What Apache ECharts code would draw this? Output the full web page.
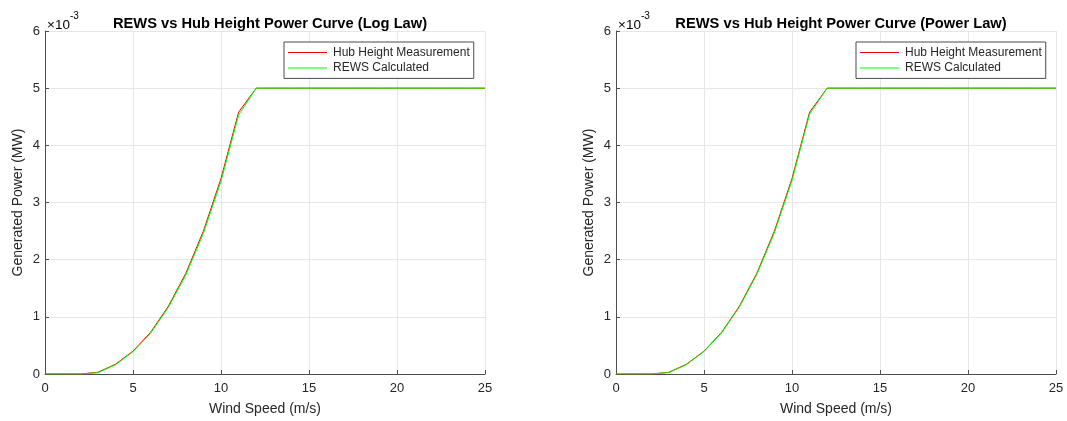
<!DOCTYPE html>
<html>
<head>
<meta charset="utf-8">
<script src="https://cdn.jsdelivr.net/npm/echarts@6/dist/echarts.min.js"></script>
<style>
  html, body { margin: 0; padding: 0; background: #ffffff; }
  #chart { width: 1067px; height: 421px; }
</style>
</head>
<body>
<div id="chart"></div>
<script>
// Wind speed samples (m/s)
const windSpeed = [0, 1, 2, 3, 4, 5, 6, 7, 8, 9, 10, 11, 12, 13, 14, 15, 16, 17, 18, 19, 20, 21, 22, 23, 24, 25];

// Generated power (MW), log-law profile
const hubLog  = [0, 0, 0, 0.000030, 0.000170, 0.000400, 0.000730, 0.001180, 0.001760, 0.002500, 0.003420, 0.004580, 0.005000,
                 0.005, 0.005, 0.005, 0.005, 0.005, 0.005, 0.005, 0.005, 0.005, 0.005, 0.005, 0.005, 0.005];
const rewsLog = [0, 0, 0, 0.000022, 0.000160, 0.000390, 0.000715, 0.001160, 0.001730, 0.002460, 0.003370, 0.004530, 0.005000,
                 0.005, 0.005, 0.005, 0.005, 0.005, 0.005, 0.005, 0.005, 0.005, 0.005, 0.005, 0.005, 0.005];

// Generated power (MW), power-law profile
const hubPow  = [0, 0, 0, 0.000030, 0.000170, 0.000400, 0.000730, 0.001180, 0.001760, 0.002500, 0.003420, 0.004580, 0.005000,
                 0.005, 0.005, 0.005, 0.005, 0.005, 0.005, 0.005, 0.005, 0.005, 0.005, 0.005, 0.005, 0.005];
const rewsPow = [0, 0, 0, 0.000025, 0.000163, 0.000393, 0.000720, 0.001165, 0.001740, 0.002470, 0.003385, 0.004545, 0.005000,
                 0.005, 0.005, 0.005, 0.005, 0.005, 0.005, 0.005, 0.005, 0.005, 0.005, 0.005, 0.005, 0.005];

const titles = ['REWS vs Hub Height Power Curve (Log Law)', 'REWS vs Hub Height Power Curve (Power Law)'];
const seriesNames = ['Hub Height Measurement', 'REWS Calculated'];

const FONT = '"Liberation Sans", Arial, Helvetica, sans-serif';
const TEXT_COLOR = '#262626';
const AXIS_COLOR = '#4d4d4d';
const GRID_COLOR = '#e6e6e6';
const RED = '#f00000';
const GREEN = '#00ff00';

const panels = [
  { left: 45, hub: hubLog, rews: rewsLog, title: titles[0], legendLeft: 284 },
  { left: 616, hub: hubPow, rews: rewsPow, title: titles[1], legendLeft: 856 }
];
const plotW = 440;
const plotTop = 31;
const plotBottom = 43;

const pairs = (xs, ys) => xs.map((x, i) => [x, ys[i]]);

const option = {
  backgroundColor: '#ffffff',
  animation: false,
  textStyle: { fontFamily: FONT },
  title: panels.map(p => ({
    text: p.title,
    left: p.left + plotW / 2,
    textAlign: 'center',
    top: 11,
    textStyle: { fontFamily: FONT, fontSize: 14.7, fontWeight: 'bold', color: '#000000' }
  })),
  legend: panels.map(p => ({
    data: seriesNames,
    orient: 'vertical',
    left: p.legendLeft,
    top: 42,
    padding: [4.4, 4, 4.4, 4],
    itemGap: 3.6,
    itemWidth: 39,
    itemHeight: 12,
    icon: 'path://M0,0h40v1h-40z',
    backgroundColor: '#ffffff',
    borderColor: '#4a4a4a',
    borderWidth: 1,
    borderRadius: 0,
    selectedMode: false,
    textStyle: { fontFamily: FONT, fontSize: 12, color: TEXT_COLOR, padding: [0, 0, 0, 1] }
  })),
  grid: panels.map(p => ({
    left: p.left, width: plotW, top: plotTop, bottom: plotBottom, containLabel: false
  })),
  xAxis: panels.map((p, i) => ({
    type: 'value', gridIndex: i, min: 0, max: 25, interval: 5,
    name: 'Wind Speed (m/s)', nameLocation: 'middle', nameGap: 28,
    nameTextStyle: { fontFamily: FONT, fontSize: 14, color: TEXT_COLOR },
    axisLine: { show: true, lineStyle: { color: AXIS_COLOR, width: 1 } },
    axisTick: { show: true, inside: true, length: 4, lineStyle: { color: AXIS_COLOR } },
    axisLabel: { fontFamily: FONT, fontSize: 13, color: TEXT_COLOR, margin: 8 },
    splitLine: { show: true, lineStyle: { color: GRID_COLOR, width: 1 } }
  })),
  yAxis: panels.map((p, i) => ({
    type: 'value', gridIndex: i, min: 0, max: 0.006, interval: 0.001,
    name: 'Generated Power (MW)', nameLocation: 'middle', nameGap: 20,
    nameTextStyle: { fontFamily: FONT, fontSize: 14, color: TEXT_COLOR },
    axisLine: { show: true, lineStyle: { color: AXIS_COLOR, width: 1 } },
    axisTick: { show: true, inside: true, length: 4, lineStyle: { color: AXIS_COLOR } },
    axisLabel: {
      fontFamily: FONT, fontSize: 13, color: TEXT_COLOR, margin: 5,
      formatter: v => String(Math.round(v * 1000))
    },
    splitLine: { show: true, lineStyle: { color: GRID_COLOR, width: 1 } }
  })),
  // Exponent marker for the y-axis scale
  graphic: panels.map(p => ({
    type: 'text',
    left: p.left + 2,
    top: 11,
    style: {
      text: '{b|\u00d710}{s|-3}',
      rich: {
        b: { fontFamily: FONT, fontSize: 13.5, color: '#404040', padding: [7, 0, 0, 0] },
        s: { fontFamily: FONT, fontSize: 10, color: '#404040', verticalAlign: 'top', padding: [0, 0, 7, 0] }
      }
    }
  })),
  series: []
};

panels.forEach((p, i) => {
  option.series.push({
    name: seriesNames[0], type: 'line', xAxisIndex: i, yAxisIndex: i,
    data: pairs(windSpeed, p.hub), showSymbol: false, symbol: 'none',
    color: RED, lineStyle: { color: RED, width: 1 }, z: 2
  });
  option.series.push({
    name: seriesNames[1], type: 'line', xAxisIndex: i, yAxisIndex: i,
    data: pairs(windSpeed, p.rews), showSymbol: false, symbol: 'none',
    color: GREEN, lineStyle: { color: GREEN, width: 1 }, z: 3
  });
});

const chart = echarts.init(document.getElementById('chart'), null, { renderer: 'canvas' });
chart.setOption(option);
</script>
</body>
</html>
